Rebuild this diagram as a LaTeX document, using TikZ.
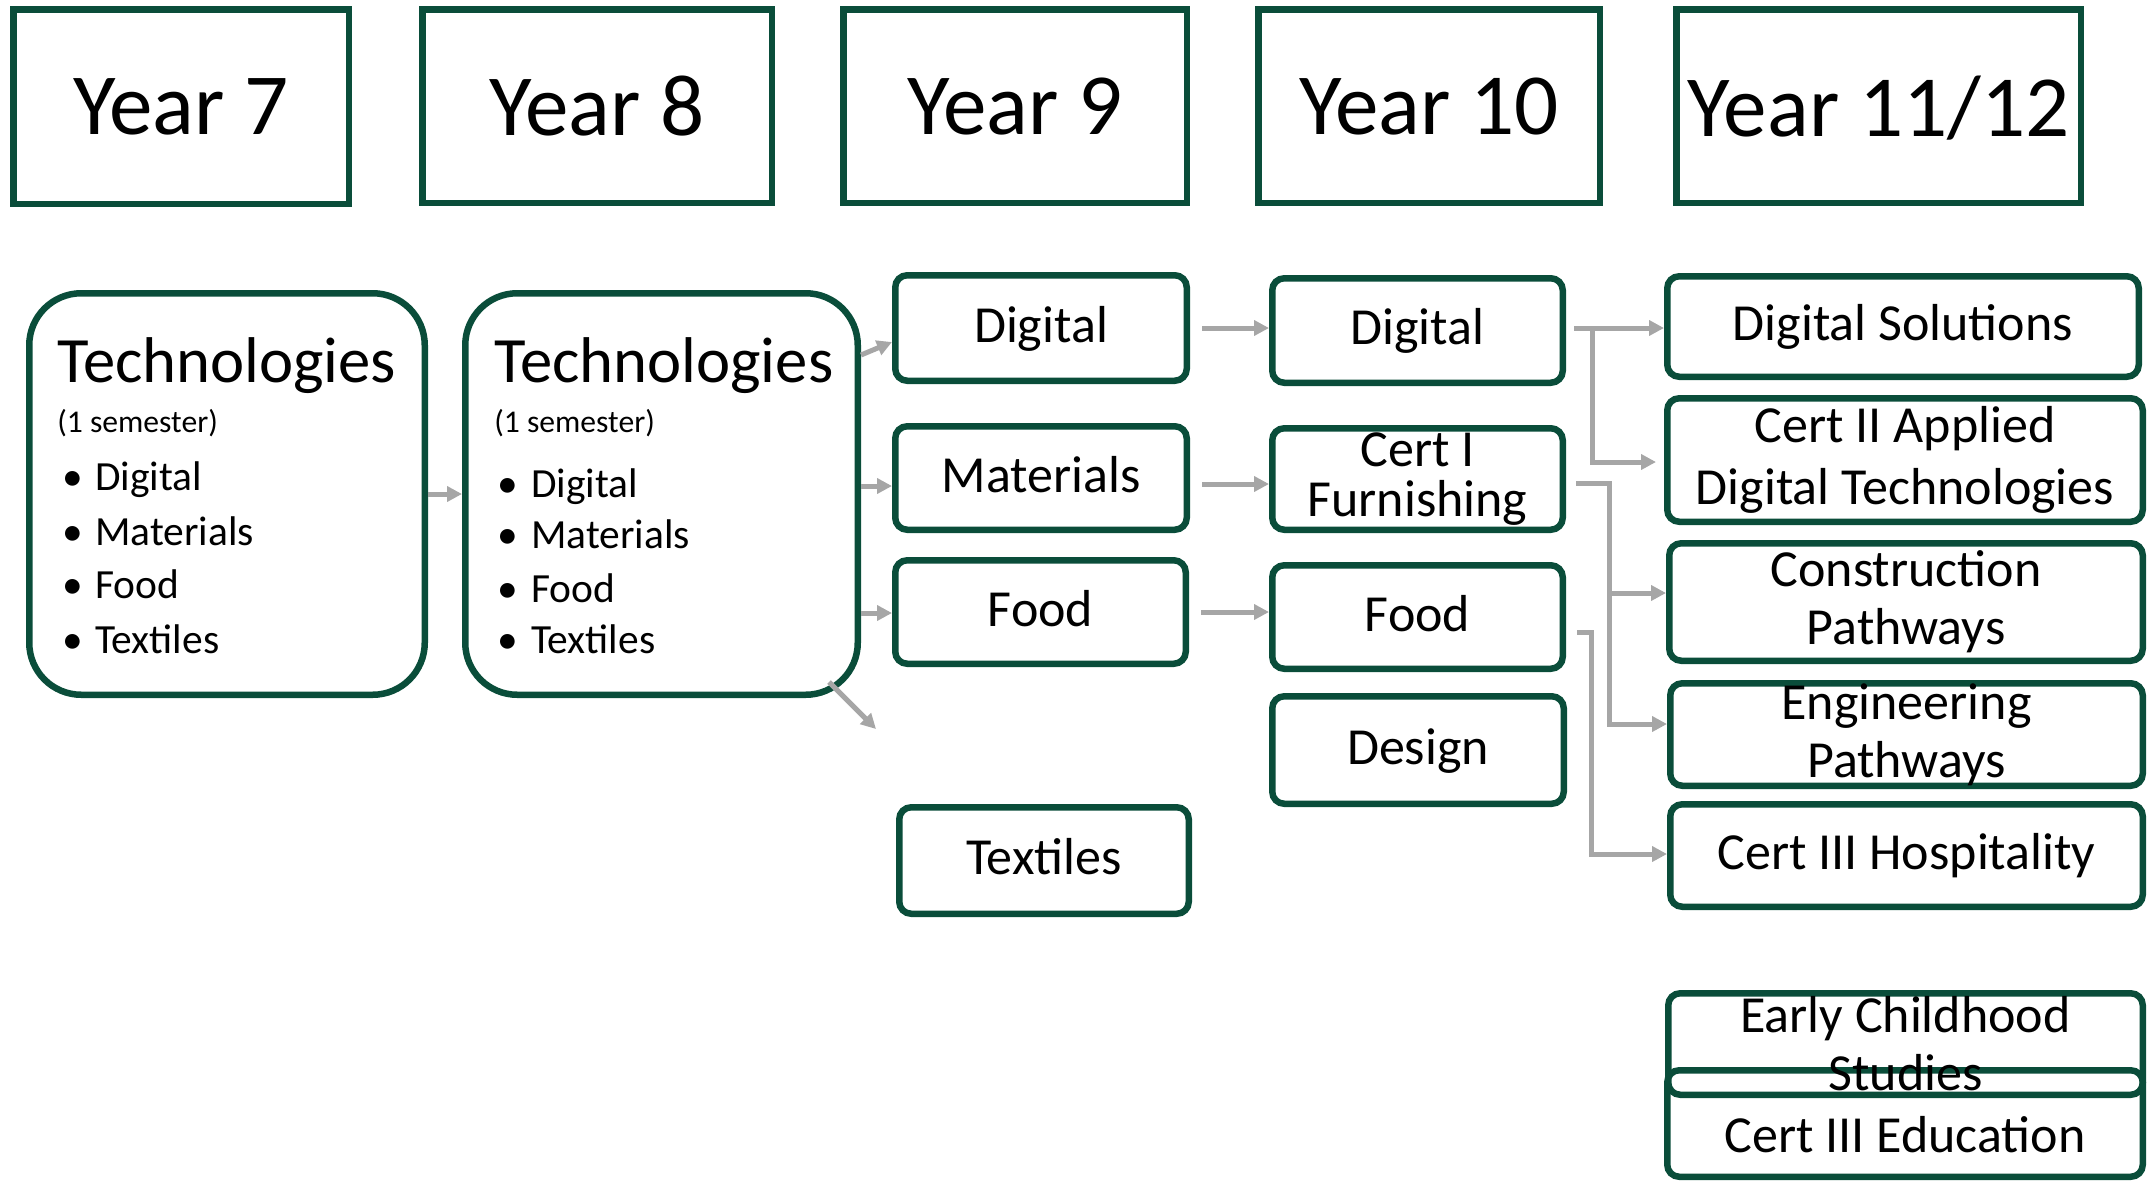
\documentclass[tikz,border=0pt]{standalone}
\usepackage{fontspec}
\setmainfont{Carlito}
\usetikzlibrary{arrows.meta,calc}
\definecolor{pathgreen}{HTML}{0A4D3A}
\definecolor{linkgray}{HTML}{A6A6A6}
\tikzset{
  box at/.style args={#1,#2,#3,#4}{at={($(#1,#2)!.5!(#3,#4)$)},minimum width={(#3-#1-6.5)*0.25mm},minimum height={(#4-#2-6.5)*0.25mm}},
  yearbox/.style={draw=pathgreen,line width=1.625mm,inner sep=0pt,text depth=0pt,font=\fontsize{62}{74}\selectfont},
  techbox/.style={draw=pathgreen,line width=1.625mm,rounded corners=13mm,inner sep=0pt},
  subjbox/.style={draw=pathgreen,line width=1.625mm,rounded corners=3mm,inner sep=0pt,font=\fontsize{37}{41.3}\selectfont},
  oneline/.style={text height=27.75pt,text depth=7.4pt},
  twoline/.style={align=center},
  techtext/.style={anchor=base west,inner sep=0pt},
  itemtext/.style={techtext,font=\fontsize{29.5}{35}\selectfont},
  conn/.style={draw=linkgray,line width=1.25mm,-{Triangle[length=3.75mm,width=3.75mm]}},
}
\begin{document}
\begin{tikzpicture}[x=0.25mm,y=-0.25mm]
\path[use as bounding box] (0,0) rectangle (2149,1185);
% year headings
\node[yearbox,box at={10,6,352,207}] (y7) {Year 7};
\node[yearbox,box at={419,6,775,206}] (y8) {Year 8};
\node[yearbox,box at={840,6,1190,206}] (y9) {Year 9};
\node[yearbox,box at={1255,6,1603,206}] (y10) {Year 10};
\node[yearbox,box at={1673,6,2084,206}] (y11) {Year 11/12};
% years 7 and 8
\node[techbox,box at={26,290,428,698}] (tech7) {};
\node[techbox,box at={462,290,861,698}] (tech8) {};
\node[techtext,font=\fontsize{46}{54}\selectfont] (t7head) at (57,382) {Technologies};
\node[techtext,font=\fontsize{22.5}{27}\selectfont] (t7sem) at (57,432) {(1 semester)};
\foreach \name/\yy [count=\i] in {Digital/490,Materials/545,Food/598,Textiles/653}{
  \node[itemtext] (t7b\i) at (62,\yy) {\textbullet};
  \node[itemtext] (t7i\i) at (95,\yy) {\name};
}
\node[techtext,font=\fontsize{46}{54}\selectfont] (t8head) at (494,382) {Technologies};
\node[techtext,font=\fontsize{22.5}{27}\selectfont] (t8sem) at (494,432) {(1 semester)};
\foreach \name/\yy [count=\i] in {Digital/497,Materials/548,Food/602,Textiles/653}{
  \node[itemtext] (t8b\i) at (497,\yy) {\textbullet};
  \node[itemtext] (t8i\i) at (531,\yy) {\name};
}
% year 9
\node[subjbox,oneline,box at={892,272,1190,384}] (dig9) {Digital};
\node[subjbox,oneline,box at={892,423,1190,533}] (mat9) {Materials};
\node[subjbox,oneline,box at={892,557,1189,667}] (food9) {Food};
\node[subjbox,oneline,box at={896,804,1192,917}] (tex9) {Textiles};
% year 10
\node[subjbox,oneline,box at={1269,275,1566,386}] (dig10) {Digital};
\node[subjbox,twoline,font=\fontsize{37}{35}\selectfont,box at={1269,425,1566,533}] (cert1) {Cert I\\Furnishing};
\node[subjbox,oneline,box at={1269,562,1566,672}] (food10) {Food};
\node[subjbox,oneline,box at={1269,693,1567,807}] (design10) {Design};
% year 11/12
\node[subjbox,oneline,box at={1664,273,2142,380}] (digsol) {Digital Solutions};
\node[subjbox,twoline,font=\fontsize{37}{44}\selectfont,box at={1664,395,2146,525}] (cert2) {Cert II Applied\\Digital Technologies};
\node[subjbox,twoline,box at={1666,540,2146,664}] (constr) {Construction\\Pathways};
\node[subjbox,twoline,box at={1667,680,2146,789}] (engin) {Engineering\\Pathways};
\node[subjbox,oneline,box at={1667,801,2146,910}] (hosp) {Cert III Hospitality};
\node[subjbox,oneline,text height=48.8pt,box at={1664,1067,2146,1180}] (educ) {Cert III Education};
\node[subjbox,twoline,box at={1665,990,2146,1098}] (early) {Early Childhood\\Studies};
% links
\draw[conn] (tech7.east) -- (tech8.west);
\draw[conn] (tech8.east |- 0,355) -- (dig9.west |- 0,342);
\draw[conn] (tech8.east |- 0,486) -- (mat9.west |- 0,486);
\draw[conn] (tech8.east |- 0,613) -- (food9.west |- 0,613);
\coordinate (texend) at (876,729);
\draw[conn] ($(tech8.south east)+(-32,-16)$) -- (texend);
\draw[conn,shorten <=3mm] (dig9.east) -- (dig9.east -| dig10.west);
\draw[conn,shorten <=3mm] (mat9.east |- 0,484) -- (cert1.west |- 0,484);
\draw[conn,shorten <=3mm] (food9.east |- 0,612) -- (food10.west |- 0,612);
\coordinate (digfork) at (1592,328);
\coordinate (certfork) at (1609,483);
\coordinate (foodfork) at (1591,632);
\draw[conn,shorten <=2mm] (dig10.east |- digfork) -- (digsol.west |- digfork);
\draw[conn,shorten >=2mm] (digfork) |- (cert2.west |- 0,462);
\draw[conn,shorten <=2.5mm] (cert1.east |- certfork) -- (certfork) |- (constr.west |- 0,593);
\draw[conn] (certfork) |- (engin.west |- 0,724);
\draw[conn,shorten <=2.75mm] (food10.east |- foodfork) -- (foodfork) |- (hosp.west |- 0,854);
\end{tikzpicture}
\end{document}
